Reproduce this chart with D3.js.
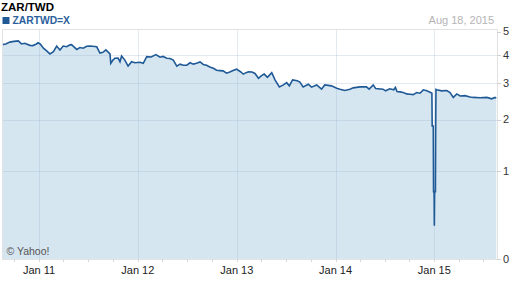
<!DOCTYPE html>
<html>
<head>
<meta charset="utf-8">
<script src="https://cdn.jsdelivr.net/npm/d3@7"></script>
<style>
  html, body { margin: 0; padding: 0; background: #fff; }
  svg { display: block; font-family: Arial, 'Liberation Sans', sans-serif; }
</style>
</head>
<body>
<svg id="chart" width="512" height="288"></svg>
<script>
// ZAR/TWD, 5 year daily close
const title = 'ZAR/TWD'
const symbol = 'ZARTWD=X'
const asOf = 'Aug 18, 2015'
const startDate = '2010-08-18'
const endDate = '2015-08-18'
const yTicks = [0, 1, 2, 3, 4, 5]
const xTickYears = ['2011', '2012', '2013', '2014', '2015']
const xTickLabels = ['Jan 11', 'Jan 12', 'Jan 13', 'Jan 14', 'Jan 15']

const dates = [
	'2010-08-18', '2010-08-31', '2010-09-15', '2010-09-30', '2010-10-16', '2010-10-28', '2010-11-09', '2010-11-28',
	'2010-12-09', '2010-12-22', '2010-12-28', '2011-01-05', '2011-01-17', '2011-01-29', '2011-02-10', '2011-02-23',
	'2011-03-07', '2011-03-19', '2011-03-31', '2011-04-13', '2011-04-25', '2011-05-01', '2011-05-20', '2011-06-01',
	'2011-06-13', '2011-06-26', '2011-07-08', '2011-08-02', '2011-08-14', '2011-08-25', '2011-09-05', '2011-09-20',
	'2011-09-23', '2011-10-01', '2011-10-08', '2011-10-20', '2011-10-27', '2011-11-02', '2011-11-14', '2011-11-26',
	'2011-12-09', '2011-12-21', '2012-01-09', '2012-01-21', '2012-02-03', '2012-02-19', '2012-03-08', '2012-03-23',
	'2012-04-03', '2012-04-17', '2012-04-29', '2012-05-11', '2012-05-24', '2012-06-05', '2012-06-17', '2012-06-30',
	'2012-07-12', '2012-07-24', '2012-08-05', '2012-08-18', '2012-08-30', '2012-09-11', '2012-09-23', '2012-10-06',
	'2012-10-18', '2012-10-30', '2012-11-11', '2012-11-24', '2012-12-06', '2012-12-18', '2012-12-31', '2013-01-13',
	'2013-01-25', '2013-02-04', '2013-02-13', '2013-02-26', '2013-03-09', '2013-03-22', '2013-04-01', '2013-04-12',
	'2013-04-24', '2013-05-10', '2013-05-22', '2013-06-07', '2013-06-22', '2013-07-04', '2013-07-14', '2013-07-26',
	'2013-08-12', '2013-08-22', '2013-09-03', '2013-09-22', '2013-10-04', '2013-10-23', '2013-11-10', '2013-11-22',
	'2013-12-17', '2014-01-05', '2014-01-17', '2014-02-04', '2014-02-23', '2014-03-07', '2014-04-01', '2014-04-25',
	'2014-05-05', '2014-05-20', '2014-05-29', '2014-06-25', '2014-07-05', '2014-07-20', '2014-08-04', '2014-08-10',
	'2014-08-16', '2014-08-27', '2014-09-08', '2014-09-21', '2014-10-03', '2014-10-15', '2014-10-28', '2014-11-09',
	'2014-11-21', '2014-12-04', '2014-12-16', '2014-12-23', '2014-12-24', '2014-12-28', '2014-12-29', '2014-12-31',
	'2015-01-01', '2015-01-02', '2015-01-05', '2015-01-06', '2015-01-07', '2015-01-10', '2015-01-28', '2015-02-16',
	'2015-02-28', '2015-03-12', '2015-03-25', '2015-04-06', '2015-04-24', '2015-05-13', '2015-05-25', '2015-06-19',
	'2015-07-14', '2015-08-01', '2015-08-13', '2015-08-18'
]

const closes = [
	4.41, 4.44, 4.52, 4.55, 4.57, 4.44, 4.47, 4.38,
	4.37, 4.44, 4.49, 4.44, 4.26, 4.15, 4.03, 4.12,
	4.35, 4.19, 4.35, 4.32, 4.40, 4.41, 4.21, 4.29,
	4.26, 4.34, 4.35, 4.32, 4.06, 4.09, 4.19, 4.03,
	3.67, 3.79, 3.86, 3.87, 3.73, 3.95, 3.79, 3.57,
	3.73, 3.69, 3.71, 3.67, 3.92, 3.91, 4.00, 3.90,
	3.93, 3.86, 3.85, 3.79, 3.57, 3.64, 3.60, 3.60,
	3.69, 3.64, 3.67, 3.72, 3.63, 3.60, 3.54, 3.49,
	3.42, 3.41, 3.40, 3.32, 3.36, 3.41, 3.46, 3.38,
	3.29, 3.34, 3.37, 3.36, 3.31, 3.15, 3.23, 3.29,
	3.18, 3.34, 3.10, 2.88, 2.94, 3.01, 2.91, 3.10,
	3.07, 3.03, 2.88, 2.96, 2.87, 2.94, 2.81, 2.94,
	2.91, 2.84, 2.81, 2.77, 2.81, 2.85, 2.88, 2.88,
	2.81, 2.94, 2.83, 2.81, 2.76, 2.82, 2.79, 2.86,
	2.74, 2.73, 2.71, 2.67, 2.66, 2.65, 2.71, 2.69,
	2.79, 2.76, 2.72, 2.69, 1.85, 1.85, 0.70, 0.70,
	0.30, 0.70, 0.70, 1.85, 2.80, 2.79, 2.76, 2.77,
	2.71, 2.57, 2.67, 2.61, 2.62, 2.58, 2.57, 2.56,
	2.57, 2.53, 2.57, 2.55
]

const parse = d3.utcParse('%Y-%m-%d')
const data = dates.map((d, i) => ({ date: parse(d), close: closes[i] }))

const plot = { left: 2, right: 497, top: 29, bottom: 259 }
const lineColor = '#1f5a97'
const fillColor = '#d6e6f1'

const svg = d3.select('#chart')

const x = d3.scaleUtc()
	.domain([parse(startDate), parse(endDate)])
	.range([2.3, 496.3])

// yahoo uses a log(1 + v) style axis
const y = d3.scaleSymlog()
	.constant(1)
	.domain([0, 5])
	.range([plot.bottom, 31.5])

// filled area under the close
const area = d3.area()
	.x(d => x(d.date))
	.y0(y(0))
	.y1(d => y(d.close))

const line = d3.line()
	.x(d => x(d.date))
	.y(d => y(d.close))

svg.append('path')
	.datum(data)
	.attr('fill', fillColor)
	.attr('d', area)

// grid
const grid = svg.append('g')
	.attr('stroke', 'rgba(150,175,200,0.28)')
	.attr('stroke-width', 1)

grid.selectAll('.hgrid')
	.data(yTicks.filter(t => t > 0 && t < 5))
	.join('line')
	.attr('class', 'hgrid')
	.attr('x1', plot.left)
	.attr('x2', plot.right)
	.attr('y1', d => Math.round(y(d)) + 0.5)
	.attr('y2', d => Math.round(y(d)) + 0.5)

const janDates = xTickYears.map(yr => parse(`${yr}-01-01`))

grid.selectAll('.vgrid')
	.data(janDates)
	.join('line')
	.attr('class', 'vgrid')
	.attr('x1', d => Math.round(x(d)) + 0.5)
	.attr('x2', d => Math.round(x(d)) + 0.5)
	.attr('y1', plot.top)
	.attr('y2', plot.bottom)

svg.append('path')
	.datum(data)
	.attr('fill', 'none')
	.attr('stroke', lineColor)
	.attr('stroke-width', 1.6)
	.attr('stroke-linejoin', 'miter')
	.attr('d', line)

// plot frame
svg.append('path')
	.attr('fill', 'none')
	.attr('stroke', '#e2e2e2')
	.attr('d', `M${plot.left + 0.5},${plot.bottom}V${plot.top + 0.5}H${plot.right + 0.5}V${plot.bottom}`)

svg.append('line')
	.attr('x1', plot.left)
	.attr('x2', plot.right + 4)
	.attr('y1', plot.bottom + 0.5)
	.attr('y2', plot.bottom + 0.5)
	.attr('stroke', '#e4e4e4')

// x axis: quarterly ticks, labels at january
const quarters = d3.utcMonth.every(3).range(parse(startDate), parse(endDate))
svg.append('g')
	.selectAll('line')
	.data(quarters)
	.join('line')
	.attr('x1', d => Math.round(x(d)) + 0.5)
	.attr('x2', d => Math.round(x(d)) + 0.5)
	.attr('y1', plot.bottom)
	.attr('y2', plot.bottom + 3)
	.attr('stroke', '#d8d8d8')

svg.append('g')
	.selectAll('text')
	.data(janDates)
	.join('text')
	.attr('x', d => x(d))
	.attr('y', 274)
	.attr('text-anchor', 'middle')
	.attr('font-size', 11)
	.attr('fill', '#222')
	.text((d, i) => xTickLabels[i])

// y axis on the right
const yAxis = svg.append('g')
yAxis.selectAll('line')
	.data(yTicks)
	.join('line')
	.attr('x1', plot.right)
	.attr('x2', plot.right + 4)
	.attr('y1', d => Math.round(y(d)) + 0.5)
	.attr('y2', d => Math.round(y(d)) + 0.5)
	.attr('stroke', '#d0d0d0')

yAxis.selectAll('text')
	.data(yTicks)
	.join('text')
	.attr('x', plot.right + 6)
	.attr('y', d => y(d))
	.attr('dy', '0.36em')
	.attr('font-size', 11)
	.attr('fill', '#333')
	.text(d => d)

// header
svg.append('text')
	.attr('x', 1)
	.attr('y', 11)
	.attr('font-size', 11.5)
	.attr('font-weight', 'bold')
	.attr('fill', '#000')
	.text(title)

svg.append('rect')
	.attr('x', 2.5)
	.attr('y', 17)
	.attr('width', 7)
	.attr('height', 7)
	.attr('fill', lineColor)

svg.append('text')
	.attr('x', 12.5)
	.attr('y', 24)
	.attr('font-size', 10.3)
	.attr('font-weight', 'bold')
	.attr('fill', '#2b5f9b')
	.text(symbol)

svg.append('text')
	.attr('x', 494)
	.attr('y', 24)
	.attr('text-anchor', 'end')
	.attr('font-size', 11)
	.attr('fill', '#b4b4b4')
	.text(asOf)

svg.append('text')
	.attr('x', 6.5)
	.attr('y', 255)
	.attr('font-size', 10.5)
	.attr('fill', '#555')
	.text('© Yahoo!')
</script>
</body>
</html>
